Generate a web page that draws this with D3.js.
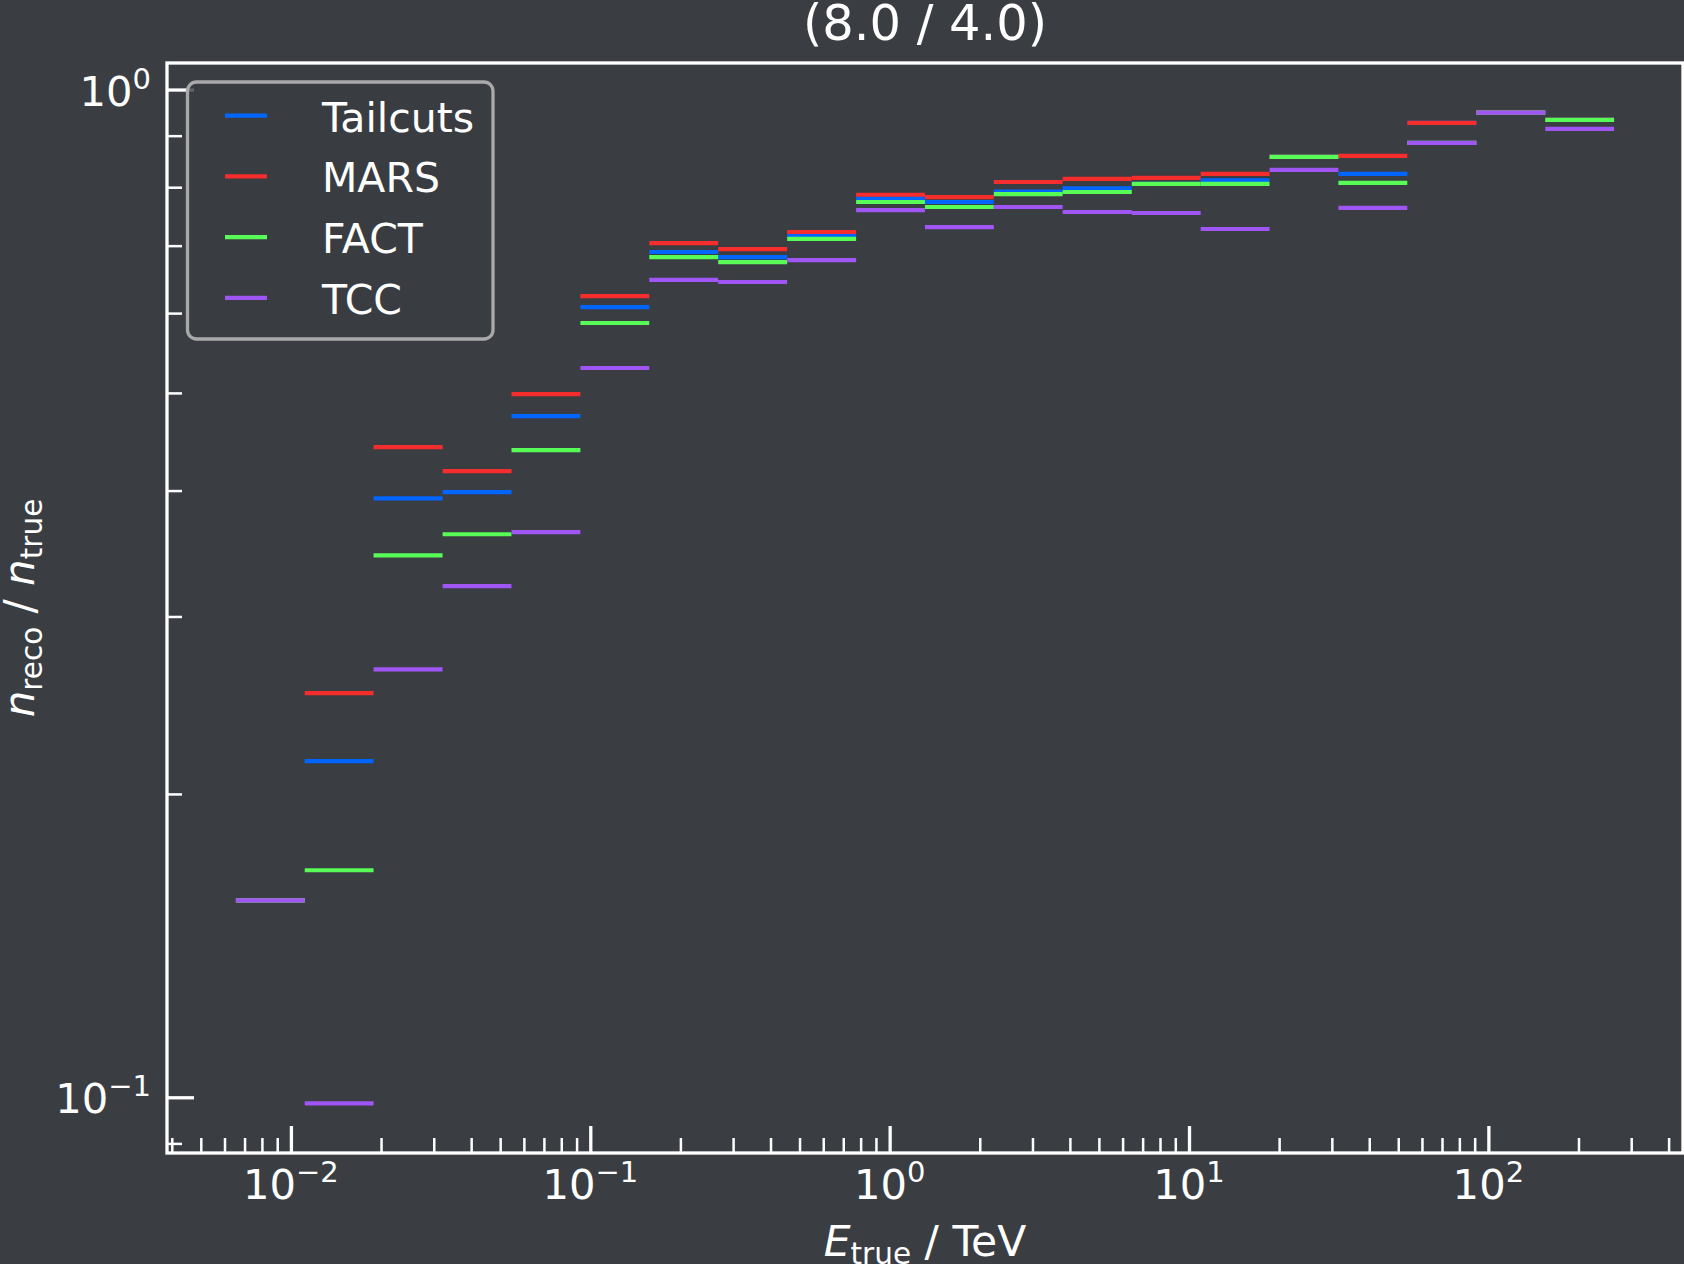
<!DOCTYPE html>
<html>
<head>
<meta charset="utf-8">
<script src="https://cdn.jsdelivr.net/npm/d3@7"></script>
<style>
body { margin: 0; background: #3a3d42; }
text { font-family: "DejaVu Sans", sans-serif; fill: #ffffff; }
</style>
</head>
<body>
<script>
// energy bin edges (TeV), 20 bins
const binEdges = [0.00655, 0.01112, 0.01888, 0.03211, 0.05455, 0.09268, 0.1574, 0.2674, 0.4546, 0.7727,
                  1.312, 2.228, 3.784, 6.44, 10.94, 18.58, 31.55, 53.6, 91.2, 154.9, 263.0];

const seriesNames = ["Tailcuts", "MARS", "FACT", "TCC"];
const seriesColors = ["#0066ff", "#f52d2d", "#57fc57", "#a055f5"];

// n_reco / n_true per bin
const tailcuts = [0.1568, 0.2156, 0.3930, 0.3986, 0.4742, 0.6083, 0.6899, 0.6820, 0.7173, 0.7800,
                  0.7734, 0.7918, 0.7980, 0.8060, 0.8128, 0.8574, 0.8246, 0.9267, 0.9488, 0.9330];
const mars     = [0.1568, 0.2518, 0.4417, 0.4181, 0.4985, 0.6238, 0.7041, 0.6946, 0.7222, 0.7863,
                  0.7821, 0.8096, 0.8152, 0.8171, 0.8246, 0.8574, 0.8594, 0.9267, 0.9488, 0.9330];
const fact     = [0.1568, 0.1680, 0.3450, 0.3620, 0.4387, 0.5866, 0.6820, 0.6742, 0.7108, 0.7734,
                  0.7646, 0.7876, 0.7913, 0.8060, 0.8060, 0.8574, 0.8079, 0.8853, 0.9488, 0.9330];
const tcc      = [0.1568, 0.0986, 0.2659, 0.3215, 0.3637, 0.5293, 0.6474, 0.6442, 0.6773, 0.7593,
                  0.7303, 0.7646, 0.7559, 0.7542, 0.7271, 0.8324, 0.7630, 0.8853, 0.9488, 0.9142];
const seriesValues = [tailcuts, mars, fact, tcc];

const titleText = "(8.0 / 4.0)";

const W = 1684, H = 1264;
const plot = {left: 167, right: 1683, top: 63, bottom: 1153};
const bg = "#3a3d42";

// matplotlib-like 5% margins in log space
const padLog = (lo, hi) => {
    const a = Math.log10(lo), b = Math.log10(hi), m = 0.05 * (b - a);
    return [Math.pow(10, a - m), Math.pow(10, b + m)];
};
const allVals = seriesValues.flat();

const x = d3.scaleLog()
    .domain(padLog(d3.min(binEdges), d3.max(binEdges)))
    .range([plot.left, plot.right]);

const y = d3.scaleLog()
    .domain(padLog(d3.min(allVals), d3.max(allVals)))
    .range([plot.bottom, plot.top]);

const svg = d3.select("body").append("svg")
    .attr("width", W)
    .attr("height", H);

svg.append("rect")
    .attr("width", W)
    .attr("height", H)
    .attr("fill", bg);

const isMajor = v => Math.abs(Math.log10(v) - Math.round(Math.log10(v))) < 1e-9;
const xTicks = x.ticks();
const yTicks = y.ticks();

// ticks (pointing inward)
function styleTicks(g, w) {
    g.select(".domain").remove();
    g.selectAll("line").attr("stroke", "#ffffff").attr("stroke-width", w);
}

svg.append("g")
    .attr("transform", "translate(0," + plot.bottom + ")")
    .call(d3.axisBottom(x).tickValues(xTicks.filter(isMajor)).tickSize(-27).tickFormat(""))
    .call(g => styleTicks(g, 3.3));

svg.append("g")
    .attr("transform", "translate(0," + plot.bottom + ")")
    .call(d3.axisBottom(x).tickValues(xTicks.filter(v => !isMajor(v))).tickSize(-15).tickFormat(""))
    .call(g => styleTicks(g, 2.5));

svg.append("g")
    .attr("transform", "translate(" + plot.left + ",0)")
    .call(d3.axisLeft(y).tickValues(yTicks.filter(isMajor)).tickSize(-27).tickFormat(""))
    .call(g => styleTicks(g, 3.3));

svg.append("g")
    .attr("transform", "translate(" + plot.left + ",0)")
    .call(d3.axisLeft(y).tickValues(yTicks.filter(v => !isMajor(v))).tickSize(-15).tickFormat(""))
    .call(g => styleTicks(g, 2.5));

// tick labels as 10^n
function powLabel(sel, v) {
    const e = Math.round(Math.log10(v));
    sel.append("tspan").text("10");
    sel.append("tspan")
        .attr("dy", -17)
        .style("font-size", "29px")
        .text(e < 0 ? "\u2212" + (-e) : String(e));
}

xTicks.filter(isMajor).forEach(v => {
    svg.append("text")
        .attr("x", x(v))
        .attr("y", 1199)
        .attr("text-anchor", "middle")
        .style("font-size", "41.7px")
        .call(t => powLabel(t, v));
});

yTicks.filter(isMajor).forEach(v => {
    svg.append("text")
        .attr("x", 151)
        .attr("y", y(v) + 16)
        .attr("text-anchor", "end")
        .style("font-size", "41.7px")
        .call(t => powLabel(t, v));
});

// step segments per bin
seriesValues.forEach((vals, si) => {
    svg.append("g")
        .selectAll("line")
        .data(vals)
        .enter()
        .append("line")
        .attr("x1", (d, i) => x(binEdges[i]))
        .attr("x2", (d, i) => x(binEdges[i + 1]))
        .attr("y1", d => y(d))
        .attr("y2", d => y(d))
        .attr("stroke", seriesColors[si])
        .attr("stroke-width", 4.2);
});

// spines
svg.append("rect")
    .attr("x", plot.left)
    .attr("y", plot.top)
    .attr("width", plot.right - plot.left)
    .attr("height", plot.bottom - plot.top)
    .attr("fill", "none")
    .attr("stroke", "#ffffff")
    .attr("stroke-width", 3.3);

// legend
const legend = svg.append("g");
legend.append("rect")
    .attr("x", 187.5)
    .attr("y", 82)
    .attr("width", 305.5)
    .attr("height", 257)
    .attr("rx", 9)
    .attr("fill", bg)
    .attr("fill-opacity", 0.8)
    .attr("stroke", "#a9a9a9")
    .attr("stroke-width", 3.3);

seriesNames.forEach((name, i) => {
    legend.append("line")
        .attr("x1", 225)
        .attr("x2", 267)
        .attr("y1", 115.7 + i * 60.7)
        .attr("y2", 115.7 + i * 60.7)
        .attr("stroke", seriesColors[i])
        .attr("stroke-width", 4.2);
    legend.append("text")
        .attr("x", 322)
        .attr("y", 131.5 + i * 60.7)
        .style("font-size", "41px")
        .text(name);
});

// title
svg.append("text")
    .attr("x", (plot.left + plot.right) / 2)
    .attr("y", 40)
    .attr("text-anchor", "middle")
    .style("font-size", "49.5px")
    .text(titleText);

// x label: E_true / TeV
const xl = svg.append("text")
    .attr("x", (plot.left + plot.right) / 2)
    .attr("y", 1256)
    .attr("text-anchor", "middle")
    .style("font-size", "42.5px");
xl.append("tspan").style("font-style", "italic").text("E");
xl.append("tspan").attr("dy", 8).style("font-size", "29.5px").text("true");
xl.append("tspan").attr("dy", -8).text(" / TeV");

// y label: n_reco / n_true
const yl = svg.append("text")
    .attr("transform", "translate(33.5," + ((plot.top + plot.bottom) / 2) + ") rotate(-90)")
    .attr("text-anchor", "middle")
    .style("font-size", "42px");
yl.append("tspan").style("font-style", "italic").text("n");
yl.append("tspan").attr("dy", 8).style("font-size", "29.5px").text("reco");
yl.append("tspan").attr("dy", -8).text(" / ");
yl.append("tspan").style("font-style", "italic").text("n");
yl.append("tspan").attr("dy", 8).style("font-size", "29.5px").text("true");
</script>
</body>
</html>
